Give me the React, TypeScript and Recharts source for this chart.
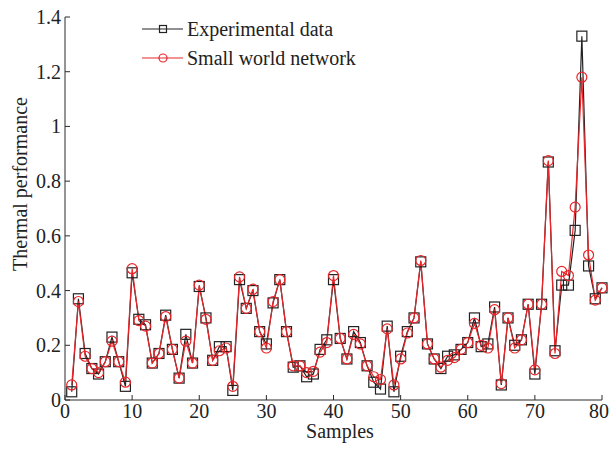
import { LineChart, Line, XAxis, YAxis, Label } from "recharts";

// sample index 1..80
const samples = Array.from({ length: 80 }, (_, i) => i + 1);

const experimental = [
  0.03, 0.37, 0.17, 0.115, 0.095, 0.14, 0.23, 0.14, 0.05, 0.465,
  0.295, 0.275, 0.135, 0.17, 0.31, 0.185, 0.08, 0.24, 0.135, 0.415,
  0.3, 0.145, 0.195, 0.195, 0.035, 0.44, 0.335, 0.4, 0.25, 0.205,
  0.355, 0.44, 0.25, 0.12, 0.125, 0.085, 0.095, 0.185, 0.22, 0.44,
  0.225, 0.15, 0.25, 0.21, 0.125, 0.065, 0.04, 0.27, 0.03, 0.16,
  0.25, 0.3, 0.505, 0.205, 0.15, 0.115, 0.16, 0.165, 0.185, 0.21,
  0.3, 0.195, 0.205, 0.34, 0.055, 0.3, 0.2, 0.22, 0.35, 0.095,
  0.35, 0.87, 0.18, 0.42, 0.42, 0.62, 1.33, 0.49, 0.37, 0.41,
];

const smallWorld = [
  0.055, 0.36, 0.16, 0.115, 0.1, 0.14, 0.215, 0.14, 0.065, 0.48,
  0.29, 0.27, 0.135, 0.17, 0.305, 0.185, 0.08, 0.215, 0.135, 0.42,
  0.295, 0.145, 0.18, 0.19, 0.05, 0.45, 0.335, 0.405, 0.25, 0.19,
  0.36, 0.44, 0.25, 0.125, 0.125, 0.1, 0.105, 0.175, 0.21, 0.455,
  0.225, 0.15, 0.24, 0.205, 0.125, 0.085, 0.075, 0.26, 0.055, 0.15,
  0.245, 0.3, 0.51, 0.205, 0.15, 0.12, 0.145, 0.155, 0.185, 0.21,
  0.28, 0.2, 0.19, 0.33, 0.06, 0.3, 0.19, 0.22, 0.35, 0.11,
  0.35, 0.875, 0.17, 0.47, 0.455, 0.705, 1.18, 0.53, 0.365, 0.41,
];

const xTicks = [0, 10, 20, 30, 40, 50, 60, 70, 80];
const yTicks = [0, 0.2, 0.4, 0.6, 0.8, 1, 1.2, 1.4];

const data = samples.map((s, i) => ({
  sample: s,
  exp: experimental[i],
  swn: smallWorld[i],
}));

const FONT = "Liberation Serif";
const RED = "#e8262a";
const AXIS = "#2b2b2b";
const INK = "#222";

const SquareDot = (props: any) => {
  const { cx, cy, index } = props;
  if (cx == null || cy == null) return <g key={index} />;
  return (
    <rect key={index} x={cx - 5} y={cy - 5} width={10} height={10} fill="none" stroke={INK} strokeWidth={1.2} />
  );
};

const CircleDot = (props: any) => {
  const { cx, cy, index } = props;
  if (cx == null || cy == null) return <g key={index} />;
  return <circle key={index} cx={cx} cy={cy} r={5} fill="none" stroke={RED} strokeWidth={1.2} />;
};

// keep the last label ("80") inside the 610px frame
const XTick = (props: any) => (
  <text
    x={Math.min(props.x, 599)}
    y={props.y}
    dy="0.71em"
    textAnchor="middle"
    fontFamily={FONT}
    fontSize={20}
    fill={INK}
  >
    {props.payload.value}
  </text>
);

const YTick = (props: any) => (
  <text x={props.x} y={props.y} dy="0.35em" textAnchor="end" fontFamily={FONT} fontSize={20} fill={INK}>
    {props.payload.value}
  </text>
);

// legend drawn as a small svg over the plot's top-left corner
const LegendBox = () => (
  <svg width={260} height={80} style={{ position: "absolute", left: 130, top: 10 }}>
    <line x1={12} y1={19} x2={53} y2={19} stroke={INK} strokeWidth={1.2} />
    <rect x={29.5} y={15.5} width={7} height={7} fill="none" stroke={INK} strokeWidth={1.2} />
    <text x={57} y={19} dy="0.35em" fontFamily={FONT} fontSize={20} fill={INK}>
      Experimental data
    </text>
    <line x1={12} y1={48} x2={53} y2={48} stroke={RED} strokeWidth={1.2} />
    <circle cx={33} cy={48} r={4} fill="none" stroke={RED} strokeWidth={1.2} />
    <text x={57} y={48} dy="0.35em" fontFamily={FONT} fontSize={20} fill={INK}>
      Small world network
    </text>
  </svg>
);

export default function App() {
  return (
    <div style={{ position: "absolute", left: 0, top: 0, width: 610, height: 449, background: "#fff" }}>
      <LineChart width={610} height={449} data={data} margin={{ top: 17, right: 8, left: 0, bottom: 0 }}>
        <XAxis
          dataKey="sample"
          type="number"
          domain={[0, 80]}
          ticks={xTicks}
          height={49}
          tickSize={-5}
          tickMargin={9}
          axisLine={{ stroke: AXIS }}
          tickLine={{ stroke: AXIS }}
          tick={<XTick />}
        >
          <Label
            content={() => (
              <text x={340} y={438} textAnchor="middle" fontFamily={FONT} fontSize={20} fill={INK}>
                Samples
              </text>
            )}
          />
        </XAxis>
        <YAxis
          type="number"
          domain={[0, 1.4]}
          ticks={yTicks}
          width={65}
          tickSize={-5}
          tickMargin={9}
          axisLine={{ stroke: AXIS }}
          tickLine={{ stroke: AXIS }}
          tick={<YTick />}
        >
          <Label
            content={() => (
              <text
                x={20}
                y={184}
                transform="rotate(-90 20 184)"
                textAnchor="middle"
                dominantBaseline="central"
                fontFamily={FONT}
                fontSize={20}
                fill={INK}
              >
                Thermal performance
              </text>
            )}
          />
        </YAxis>
        <Line
          dataKey="exp"
          name="Experimental data"
          stroke={INK}
          strokeWidth={1.2}
          dot={<SquareDot />}
          activeDot={false}
          isAnimationActive={false}
        />
        <Line
          dataKey="swn"
          name="Small world network"
          stroke={RED}
          strokeWidth={1.2}
          dot={<CircleDot />}
          activeDot={false}
          isAnimationActive={false}
        />
      </LineChart>
      <LegendBox />
    </div>
  );
}
